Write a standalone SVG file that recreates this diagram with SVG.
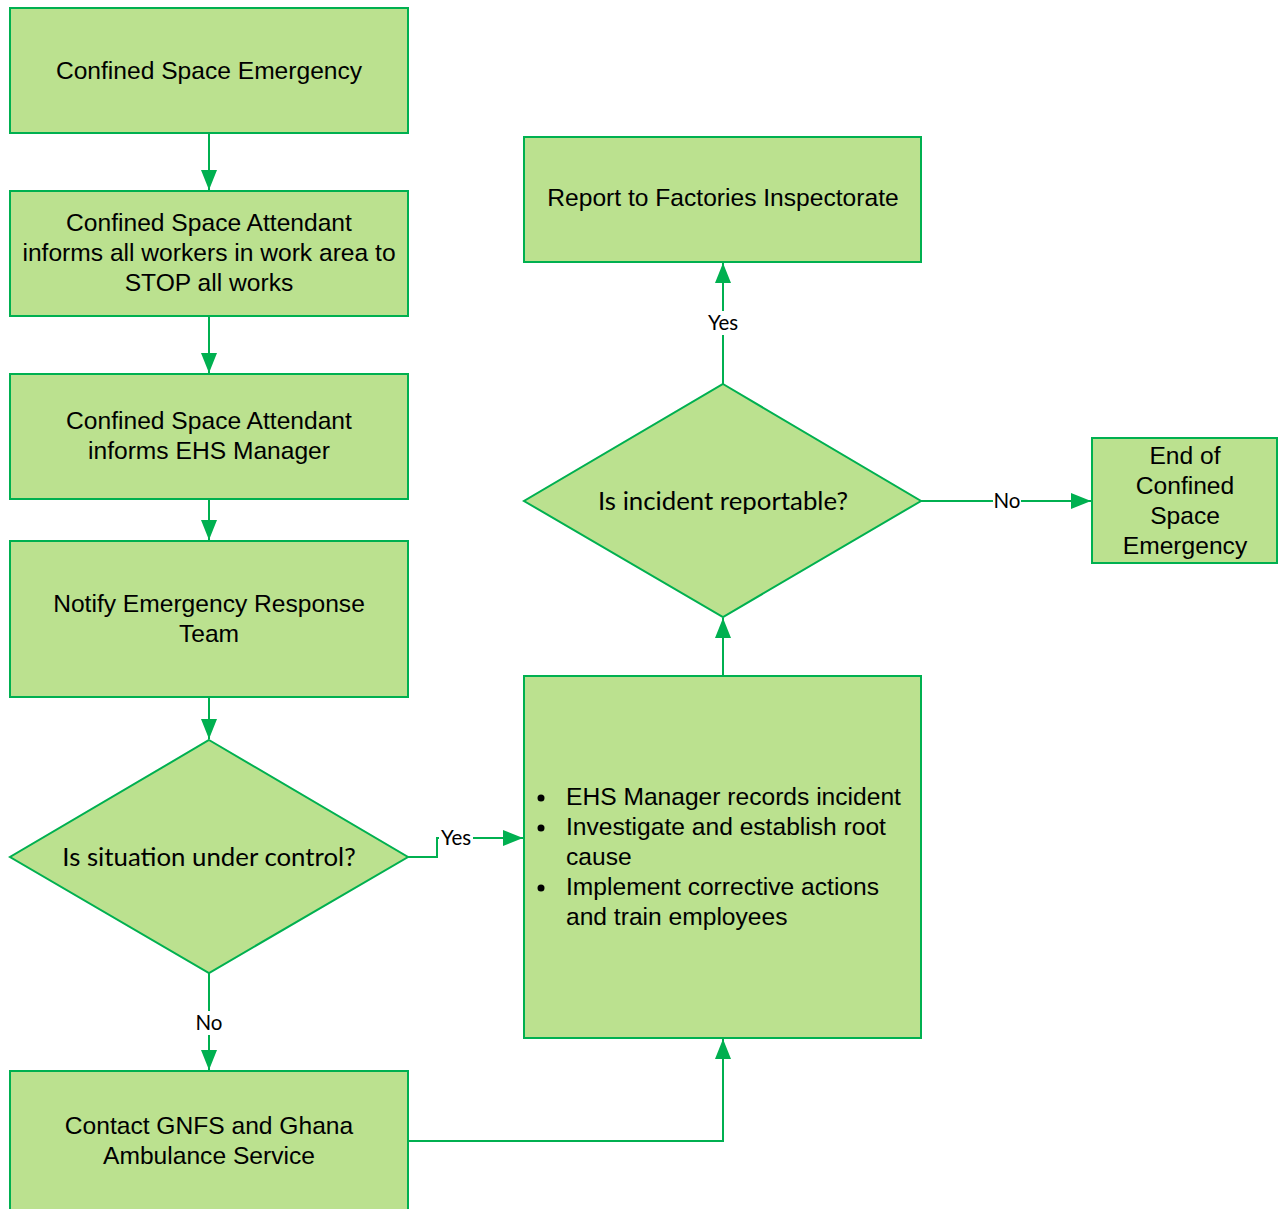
<svg xmlns="http://www.w3.org/2000/svg" width="1281" height="1209" viewBox="0 0 1281 1209">
<defs>
<style>
.box{fill:#BBE18F;stroke:#00B050;stroke-width:2}
.t{font-family:"Liberation Sans",Arial,sans-serif;font-size:24.6px;fill:#000;text-anchor:middle}
.tb{font-family:"Liberation Sans",Arial,sans-serif;font-size:24.6px;fill:#000}
.d{font-family:Lato,"Open Sans",sans-serif;font-size:25.8px;fill:#000;text-anchor:middle}
.lab{font-family:Lato,"Open Sans",sans-serif;font-size:20.5px;fill:#000;text-anchor:middle}
.c{fill:none;stroke:#00B050;stroke-width:2}
.lbg{fill:#fff}
</style>
<marker id="ah" viewBox="0 0 20 16" refX="20" refY="8" markerWidth="20" markerHeight="16" markerUnits="userSpaceOnUse" orient="auto">
<path d="M0,0 L20,8 L0,16 Z" fill="#00B050"/>
</marker>
</defs>
<rect width="1281" height="1209" fill="#fff"/>
<g id="connectors">
<line class="c" x1="209" y1="133" x2="209" y2="190" marker-end="url(#ah)"/>
<line class="c" x1="209" y1="316" x2="209" y2="373" marker-end="url(#ah)"/>
<line class="c" x1="209" y1="499" x2="209" y2="540" marker-end="url(#ah)"/>
<line class="c" x1="209" y1="697" x2="209" y2="739" marker-end="url(#ah)"/>
<line class="c" x1="209" y1="973" x2="209" y2="1070" marker-end="url(#ah)"/>
<polyline class="c" points="408,857 437,857 437,838 523,838" marker-end="url(#ah)"/>
<polyline class="c" points="408,1141 723,1141 723,1039" marker-end="url(#ah)"/>
<line class="c" x1="723" y1="676" x2="723" y2="618" marker-end="url(#ah)"/>
<line class="c" x1="723" y1="384" x2="723" y2="263" marker-end="url(#ah)"/>
<line class="c" x1="921" y1="501" x2="1091" y2="501" marker-end="url(#ah)"/>
<rect class="lbg" x="193" y="1011" width="32" height="24"/>
<text class="lab" x="209" y="1030">No</text>
<rect class="lbg" x="439" y="826" width="34" height="24"/>
<text class="lab" x="456" y="845">Yes</text>
<rect class="lbg" x="705" y="311" width="36" height="24"/>
<text class="lab" x="723" y="330">Yes</text>
<rect class="lbg" x="993" y="489" width="28" height="24"/>
<text class="lab" x="1007" y="508">No</text>
</g>
<g id="n1"><rect class="box" x="10" y="8" width="398" height="125"/><text class="t" x="209" y="79">Confined Space Emergency</text></g>
<g id="n2"><rect class="box" x="10" y="191" width="398" height="125"/><text class="t" x="209" y="231">Confined Space Attendant</text><text class="t" x="209" y="261">informs all workers in work area to</text><text class="t" x="209" y="291">STOP all works</text></g>
<g id="n3"><rect class="box" x="10" y="374" width="398" height="125"/><text class="t" x="209" y="429">Confined Space Attendant</text><text class="t" x="209" y="459">informs EHS Manager</text></g>
<g id="n4"><rect class="box" x="10" y="541" width="398" height="156"/><text class="t" x="209" y="612">Notify Emergency Response</text><text class="t" x="209" y="642">Team</text></g>
<g id="n5"><polygon class="box" points="209,740 408,857 209,973 10,857"/><text class="d" x="209" y="866">Is situation under control?</text></g>
<g id="n6"><rect class="box" x="10" y="1071" width="398" height="160"/><text class="t" x="209" y="1134">Contact GNFS and Ghana</text><text class="t" x="209" y="1164">Ambulance Service</text></g>
<g id="n7"><rect class="box" x="524" y="676" width="397" height="362"/>
<circle cx="541" cy="798" r="3.5" fill="#000"/><circle cx="541" cy="828" r="3.5" fill="#000"/><circle cx="541" cy="888" r="3.5" fill="#000"/>
<text class="tb" x="566" y="805">EHS Manager records incident</text>
<text class="tb" x="566" y="835">Investigate and establish root</text>
<text class="tb" x="566" y="865">cause</text>
<text class="tb" x="566" y="895">Implement corrective actions</text>
<text class="tb" x="566" y="925">and train employees</text></g>
<g id="n8"><polygon class="box" points="723,384 921,501 723,617 524,501"/><text class="d" x="723" y="510">Is incident reportable?</text></g>
<g id="n9"><rect class="box" x="524" y="137" width="397" height="125"/><text class="t" x="723" y="206">Report to Factories Inspectorate</text></g>
<g id="n10"><rect class="box" x="1092" y="438" width="185" height="125"/><text class="t" x="1185" y="464">End of</text><text class="t" x="1185" y="494">Confined</text><text class="t" x="1185" y="524">Space</text><text class="t" x="1185" y="554">Emergency</text></g>
</svg>
